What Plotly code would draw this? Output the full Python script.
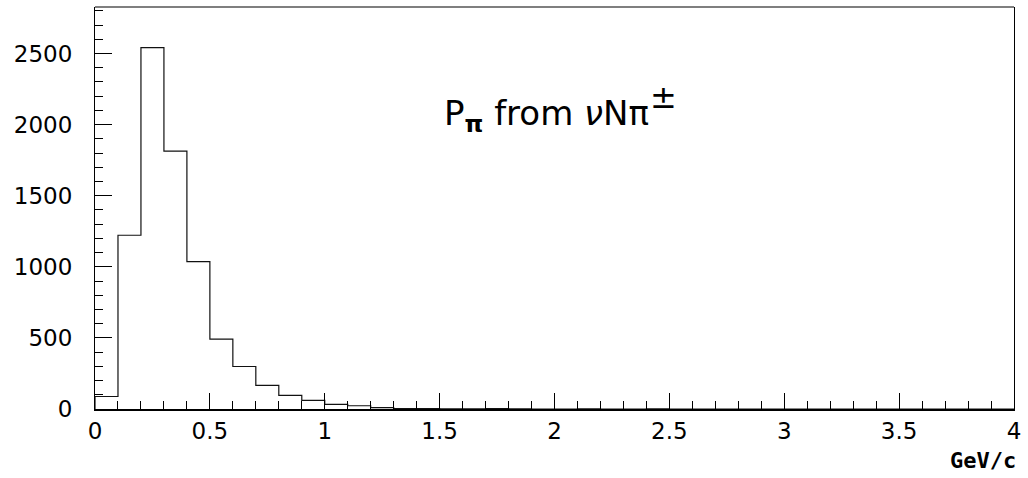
import plotly.graph_objects as go

# Histogram: pion momentum, 40 bins of 0.1 GeV/c from 0 to 4
bin_start = 0.0
bin_width = 0.1
counts = [88, 1222, 2542, 1814, 1037, 492, 299, 166, 96, 60,
          32, 23, 9, 3, 2, 1, 1, 2, 1, 0,
          0, 1, 0, 0, 1, 0, 0, 0, 0, 0,
          0, 0, 0, 0, 0, 0, 0, 0, 0, 0]

x_tick_vals = [0, 0.5, 1, 1.5, 2, 2.5, 3, 3.5, 4]
x_tick_text = ["0", "0.5", "1", "1.5", "2", "2.5", "3", "3.5", "4"]
y_tick_vals = [0, 500, 1000, 1500, 2000, 2500]
y_tick_text = ["0", "500", "1000", "1500", "2000", "2500"]

edges = [round(bin_start + i * bin_width, 4) for i in range(len(counts) + 1)]
xs = [edges[0]] + edges
ys = [0] + counts + [counts[-1]]

fig = go.Figure()
fig.add_trace(go.Scatter(
    x=xs, y=ys, mode="lines",
    line=dict(shape="hv", color="#111111", width=1.2),
    hoverinfo="skip", showlegend=False,
))

fig.update_layout(
    width=1028, height=478,
    margin=dict(l=95, r=14, t=7, b=69),
    paper_bgcolor="white", plot_bgcolor="white",
    font=dict(family="DejaVu Sans", color="black"),
    xaxis=dict(
        range=[0, 4], showgrid=False, zeroline=False,
        showline=True, linecolor="black", linewidth=2,
        ticks="inside", ticklen=16, tickcolor="black", tickwidth=1,
        tickvals=x_tick_vals, ticktext=x_tick_text,
        tickfont=dict(family="DejaVu Sans", size=23, color="black"),
        ticklabelstandoff=0,
        minor=dict(dtick=0.1, ticks="inside", ticklen=8, tickcolor="black", tickwidth=1),
    ),
    yaxis=dict(
        range=[0, 2827], showgrid=False, zeroline=False,
        showline=True, linecolor="black", linewidth=1, mirror=True,
        ticks="inside", ticklen=17, tickcolor="black", tickwidth=1,
        tickvals=y_tick_vals, ticktext=y_tick_text,
        tickfont=dict(family="DejaVu Sans", size=23, color="black"),
        ticklabelstandoff=17,
        minor=dict(dtick=100, ticks="inside", ticklen=8, tickcolor="black", tickwidth=1),
    ),
    shapes=[dict(type="line", xref="paper", yref="paper", x0=0, x1=1, y0=1, y1=1,
                 line=dict(color="#555555", width=1.5))],
    annotations=[
        dict(text="P<sub><b>π</b></sub> from <i>ν</i>Nπ",
             xref="paper", yref="paper",
             x=0.3776, y=0.73, xanchor="left", yanchor="middle", showarrow=False,
             font=dict(family="DejaVu Sans", size=34, color="black")),
        dict(text="±", xref="paper", yref="paper",
             x=0.619, y=0.777, xanchor="center", yanchor="middle", showarrow=False,
             font=dict(family="DejaVu Sans", size=32, color="black")),
        dict(text="<b>GeV/c</b>", xref="paper", yref="paper",
             x=1.004, y=-0.092, xanchor="right", yanchor="top", showarrow=False,
             font=dict(family="DejaVu Sans Mono", size=22, color="black")),
    ],
)

fig.write_html("out.html")
